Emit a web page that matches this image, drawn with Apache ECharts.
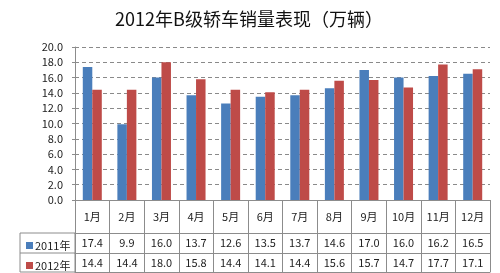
<!DOCTYPE html>
<html><head><meta charset="utf-8">
<script src="https://cdn.jsdelivr.net/npm/echarts@6/dist/echarts.min.js"></script>
<style>html,body{margin:0;padding:0;background:#fff}#c{width:500px;height:273px}</style>
</head><body><div id="c"></div>
<script>
var title = '2012年B级轿车销量表现（万辆）';
var months = ['1月','2月','3月','4月','5月','6月','7月','8月','9月','10月','11月','12月'];
var seriesNames = ['2011年','2012年'];
var sales2011 = [17.4, 9.9, 16.0, 13.7, 12.6, 13.5, 13.7, 14.6, 17.0, 16.0, 16.2, 16.5];
var sales2012 = [14.4, 14.4, 18.0, 15.8, 14.4, 14.1, 14.4, 15.6, 15.7, 14.7, 17.7, 17.1];
var yMin = 0, yMax = 20, yStep = 2;

var FONT = '"Noto Sans CJK SC", "Noto Sans", sans-serif';
var lineC = '#8c8c8c';
var chart = echarts.init(document.getElementById('c'), null, {renderer:'canvas'});
function rowAxis(offset, tickLen, labels, showLabel){
  return {
    type:'category', data: months, position:'bottom', offset: offset, boundaryGap:true,
    axisLine:{show:true, lineStyle:{color:lineC, width:1}},
    axisTick:{show:true, alignWithLabel:false, length: tickLen, inside:false, lineStyle:{color:lineC}},
    axisLabel:{show:showLabel, interval:0, color:'#222', fontFamily:FONT, fontSize:11, margin: Math.round(tickLen/2)-6,
      formatter:function(v, i){ return labels ? labels[i].toFixed(1) : v; }},
    splitLine:{show:false}
  };
}
function legendRow(name, top){
  return {data:[name], orient:'horizontal', left:21, top:top, itemWidth:7, itemHeight:7,
    icon:'rect', textStyle:{fontFamily:FONT, fontSize:11, color:'#222', padding:[0,0,0,-3]}};
}
chart.setOption({
  animation:false,
  textStyle:{fontFamily:FONT},
  title:{text:title, left:244, textAlign:'center', top:5, textStyle:{fontFamily:FONT, fontSize:18, fontWeight:'normal', color:'#111'}},
  grid:{left:75, right:10, top:47, bottom:73},
  legend:[legendRow(seriesNames[0], 235), legendRow(seriesNames[1], 255)],
  xAxis:[
    rowAxis(0, 33, null, true),
    rowAxis(33, 20, sales2011, true),
    rowAxis(53, 19, sales2012, true),
    {type:'category', data:months, position:'bottom', offset:72, axisLine:{show:true, lineStyle:{color:lineC}}, axisTick:{show:false}, axisLabel:{show:false}}
  ],
  yAxis:{type:'value', min:yMin, max:yMax, interval:yStep,
    axisLine:{show:true, lineStyle:{color:lineC}},
    axisTick:{show:true, length:3, lineStyle:{color:lineC}},
    axisLabel:{color:'#222', fontFamily:FONT, fontSize:11, margin:12, formatter:function(v){return v.toFixed(1);}},
    splitLine:{show:true, lineStyle:{color:'#8a8a8a', type:[4,3]}}
  },
  graphic:[
    {type:'rect', shape:{x:20, y:233, width:55, height:39}, style:{fill:'none', stroke:lineC, lineWidth:1}},
    {type:'line', shape:{x1:20, y1:253, x2:75, y2:253}, style:{stroke:lineC, lineWidth:1}}
  ],
  series:[
    {name:seriesNames[0], type:'bar', data:sales2011, barWidth:9.5, barGap:'0%', itemStyle:{color:'#4a7ebb'}},
    {name:seriesNames[1], type:'bar', data:sales2012, barWidth:9.5, barGap:'0%', itemStyle:{color:'#be4b48'}}
  ]
});
</script></body></html>
